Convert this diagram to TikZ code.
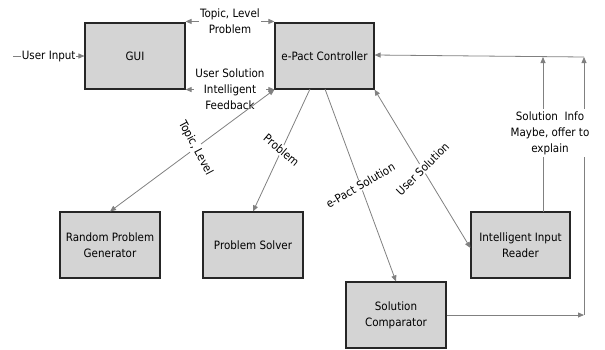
\documentclass[tikz,border=0pt]{standalone}
\usepackage{fontspec}
\setmainfont{DejaVu Sans Condensed}
\usetikzlibrary{arrows.meta}
\definecolor{lin}{HTML}{808080}
\definecolor{boxf}{HTML}{D4D4D4}
\begin{document}
\begin{tikzpicture}[x=1pt,y=-1pt,
  font=\fontsize{11.5}{16}\selectfont,
  box/.style={draw=black!85,line width=1.1pt,fill=boxf,minimum width=100pt,minimum height=66pt,inner sep=0pt,align=center},
  conn/.style={draw=lin,line width=0.8pt,arrows={-Triangle[length=6pt,width=5pt]}},
  both/.style={draw=lin,line width=0.8pt,arrows={Triangle[length=6pt,width=5pt]-Triangle[length=6pt,width=5pt]}},
  plain/.style={draw=lin,line width=0.8pt},
  lab/.style={fill=white,inner sep=1pt,align=center}]
\useasboundingbox (0,0) rectangle (605,349);
\node[box] (gui) at (135,56) {GUI};
\node[box,minimum width=99pt] (ctrl) at (324.5,56) {e-Pact Controller};
\node[box] (rpg) at (110,245) {Random Problem\\Generator};
\node[box] (ps) at (253,245) {Problem Solver};
\node[box,minimum width=99pt] (iir) at (520.5,245) {Intelligent Input\\Reader};
\node[box] (sc) at (396,315) {Solution\\Comparator};
\coordinate (ui) at (13,56);
\coordinate (r1) at (584,57);
\coordinate (r2) at (584,315);
\coordinate (r3) at (543,57);
\coordinate (iirtop) at (543,212);
\coordinate (c1) at (310,89);
\coordinate (c2) at (325,89);
% user input
\draw[conn] (ui) -- node[lab,inner sep=0.5pt]{User Input} (gui.west);
% GUI <-> controller
\draw[both] ([yshift=1pt]gui.north east) -- node[lab]{Topic, Level\\Problem} ([yshift=1pt]ctrl.north west);
\draw[both] (gui.south east) -- node[lab]{User Solution\\Intelligent\\Feedback} (ctrl.south west);
% controller down
\draw[both] (ctrl.south west) -- node[lab,rotate=-62,pos=0.48]{Topic, Level} (rpg.north);
\draw[conn] (c1) -- node[lab,rotate=-40]{Problem} (ps.north);
\draw[conn] (c2) -- node[lab,rotate=30]{e-Pact Solution} (sc.north);
\draw[both] (ctrl.south east) -- node[lab,rotate=45]{User Solution} ([yshift=-3pt]iir.west);
% right side feedback
\draw[conn] (sc.east) -- (r2);
\draw[conn] (r2) -- (r1);
\draw[conn] (iirtop) -- (r3);
\draw[conn] (r1) -- ([yshift=1pt]ctrl.east);
\node[lab,inner sep=2pt] (info) at (550,133) {Solution\ \ Info\\Maybe, offer to\\explain};
\end{tikzpicture}
\end{document}
